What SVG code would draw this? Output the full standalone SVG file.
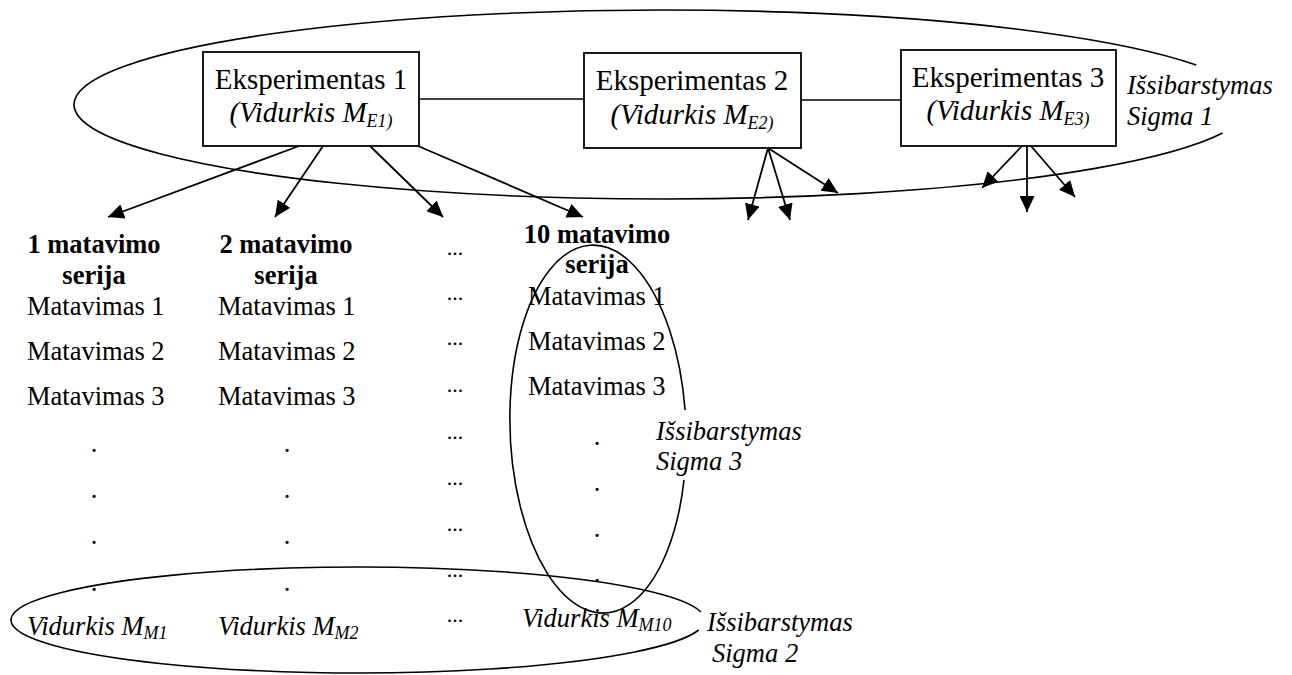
<svg xmlns="http://www.w3.org/2000/svg" width="1292" height="675" viewBox="0 0 1292 675">
  <style>
    text { font-family: "Liberation Serif", "Times New Roman", serif; fill: #000; }
    .box { fill: #fff; stroke: #000; stroke-width: 1.8; }
    .ell { fill: none; stroke: #000; stroke-width: 1.6; }
    .link { fill: none; stroke: #000; stroke-width: 1.6; }
    .arrow { fill: none; stroke: #000; stroke-width: 1.8; marker-end: url(#head); }
    .big { font-size: 29px; }
    .norm { font-size: 26.5px; }
    .hdr { font-size: 26.5px; font-weight: bold; }
    .it { font-style: italic; }
    .sub { font-size: 18px; }
    .dot { font-size: 26.5px; }
    .ell3 { font-size: 22px; }
  </style>
  <defs>
    <marker id="head" markerUnits="userSpaceOnUse" markerWidth="16" markerHeight="15" refX="16" refY="7.5" orient="auto">
      <path d="M0,0 L16,7.5 L0,15 Z" fill="#000"/>
    </marker>
  </defs>

  <!-- dispersion outlines -->
  <g id="sigma1">
    <path class="ell" d="M1196.2 65 A588 94.5 0 1 0 1222.6 133"/>
    <text class="norm it" x="1127" y="94">Išsibarstymas</text>
    <text class="norm it" x="1127" y="125">Sigma 1</text>
  </g>
  <g id="sigma3">
    <g transform="translate(598 429) rotate(-2)">
      <path class="ell" d="M87.7 -16 A88 184 0 1 0 84.2 53.8"/>
    </g>
    <text class="norm it" x="656" y="440">Išsibarstymas</text>
    <text class="norm it" x="656" y="470">Sigma 3</text>
  </g>
  <g id="sigma2">
    <path class="ell" d="M701 612 A347 53 0 1 0 698.7 630"/>
    <text class="norm it" x="707" y="631">Išsibarstymas</text>
    <text class="norm it" x="712" y="662">Sigma 2</text>
  </g>

  <!-- connectors -->
  <g id="connectors">
    <line class="link" x1="419" y1="99" x2="584" y2="99"/>
    <line class="link" x1="801" y1="100" x2="901" y2="100"/>
    <line class="arrow" x1="299" y1="146" x2="108" y2="217"/>
    <line class="arrow" x1="323" y1="146" x2="275" y2="217"/>
    <line class="arrow" x1="370" y1="146" x2="443" y2="217"/>
    <line class="arrow" x1="418" y1="146" x2="583" y2="217"/>
    <line class="arrow" x1="768" y1="148" x2="748" y2="220"/>
    <line class="arrow" x1="768" y1="148" x2="790" y2="220"/>
    <line class="arrow" x1="768" y1="148" x2="838" y2="193"/>
    <line class="arrow" x1="1022" y1="146" x2="982" y2="188"/>
    <line class="arrow" x1="1027" y1="146" x2="1027" y2="212"/>
    <line class="arrow" x1="1031" y1="146" x2="1075" y2="197"/>
  </g>

  <!-- experiments -->
  <g id="exp1">
    <rect class="box" x="203" y="52" width="216" height="94"/>
    <text class="big" x="311" y="89" text-anchor="middle">Eksperimentas 1</text>
    <text class="big it" x="311" y="122" text-anchor="middle">(Vidurkis M<tspan class="sub" dy="5">E1)</tspan></text>
  </g>
  <g id="exp2">
    <rect class="box" x="584" y="53" width="217" height="95"/>
    <text class="big" x="692" y="90" text-anchor="middle">Eksperimentas 2</text>
    <text class="big it" x="692" y="124" text-anchor="middle">(Vidurkis M<tspan class="sub" dy="5">E2)</tspan></text>
  </g>
  <g id="exp3">
    <rect class="box" x="901" y="50" width="215" height="96"/>
    <text class="big" x="1008" y="87" text-anchor="middle">Eksperimentas 3</text>
    <text class="big it" x="1008" y="120" text-anchor="middle">(Vidurkis M<tspan class="sub" dy="5">E3)</tspan></text>
  </g>

  <!-- measurement series 1 -->
  <g id="series1">
    <text class="hdr" x="94" y="253" text-anchor="middle">1 matavimo</text>
    <text class="hdr" x="94" y="284" text-anchor="middle">serija</text>
    <text class="norm" x="27" y="315">Matavimas 1</text>
    <text class="norm" x="27" y="360">Matavimas 2</text>
    <text class="norm" x="27" y="405">Matavimas 3</text>
    <text class="dot" x="94" y="452" text-anchor="middle">.</text>
    <text class="dot" x="94" y="498" text-anchor="middle">.</text>
    <text class="dot" x="94" y="544" text-anchor="middle">.</text>
    <text class="dot" x="94" y="591" text-anchor="middle">.</text>
    <text class="norm it" x="27" y="635">Vidurkis M<tspan class="sub" dy="4">M1</tspan></text>
  </g>

  <!-- measurement series 2 -->
  <g id="series2">
    <text class="hdr" x="286" y="253" text-anchor="middle">2 matavimo</text>
    <text class="hdr" x="286" y="284" text-anchor="middle">serija</text>
    <text class="norm" x="218" y="315">Matavimas 1</text>
    <text class="norm" x="218" y="360">Matavimas 2</text>
    <text class="norm" x="218" y="405">Matavimas 3</text>
    <text class="dot" x="287" y="452" text-anchor="middle">.</text>
    <text class="dot" x="287" y="498" text-anchor="middle">.</text>
    <text class="dot" x="287" y="544" text-anchor="middle">.</text>
    <text class="dot" x="287" y="591" text-anchor="middle">.</text>
    <text class="norm it" x="218" y="635">Vidurkis M<tspan class="sub" dy="4">M2</tspan></text>
  </g>

  <!-- omitted series -->
  <g id="ellipsis">
    <text class="ell3" x="455" y="255" text-anchor="middle">...</text>
    <text class="ell3" x="455" y="300" text-anchor="middle">...</text>
    <text class="ell3" x="455" y="345" text-anchor="middle">...</text>
    <text class="ell3" x="455" y="392" text-anchor="middle">...</text>
    <text class="ell3" x="455" y="439" text-anchor="middle">...</text>
    <text class="ell3" x="455" y="485" text-anchor="middle">...</text>
    <text class="ell3" x="455" y="531" text-anchor="middle">...</text>
    <text class="ell3" x="455" y="577" text-anchor="middle">...</text>
    <text class="ell3" x="455" y="622" text-anchor="middle">...</text>
  </g>

  <!-- measurement series 10 -->
  <g id="series10">
    <text class="hdr" x="597" y="243" text-anchor="middle">10 matavimo</text>
    <text class="hdr" x="597" y="273" text-anchor="middle">serija</text>
    <text class="norm" x="528" y="305">Matavimas 1</text>
    <text class="norm" x="528" y="350">Matavimas 2</text>
    <text class="norm" x="528" y="395">Matavimas 3</text>
    <text class="dot" x="597" y="445" text-anchor="middle">.</text>
    <text class="dot" x="597" y="491" text-anchor="middle">.</text>
    <text class="dot" x="597" y="537" text-anchor="middle">.</text>
    <text class="dot" x="597" y="582" text-anchor="middle">.</text>
    <text class="norm it" x="522" y="627">Vidurkis M<tspan class="sub" dy="4">M10</tspan></text>
  </g>
</svg>
